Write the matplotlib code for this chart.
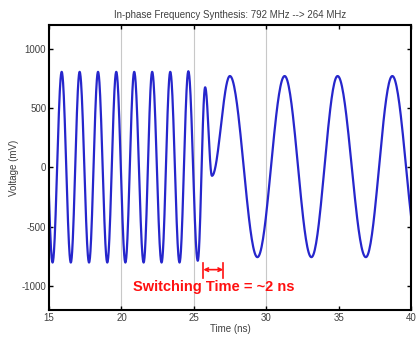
import matplotlib
matplotlib.use("Agg")
import matplotlib.pyplot as plt
import numpy as np

plt.rcParams["font.family"] = ["Liberation Sans", "DejaVu Sans"]
plt.rcParams["axes.unicode_minus"] = False

# extrema of the waveform (ns, mV)
ext_time = [14.62, 15.24, 15.87, 16.50, 17.11, 17.76, 18.38, 19.02, 19.64,
            20.27, 20.88, 21.53, 22.12, 22.77, 23.37, 24.01, 24.62, 25.27,
            25.78, 26.25, 27.49, 29.39, 31.27, 33.12, 34.93, 36.88, 38.71,
            40.60]
ext_mv = [800, -800, 805, -800, 805, -800, 805, -800, 805,
          -800, 805, -800, 805, -800, 805, -800, 810, -785,
          675, -70, 770, -755, 770, -755, 770, -755, 770,
          -755]

x_ticks = [15, 20, 25, 30, 35, 40]
y_ticks = [-1000, -500, 0, 500, 1000]
grid_at = [20, 25, 30]

switch_start, switch_end = 25.65, 27.03

# smooth half-cosine between consecutive extrema
t_parts, v_parts = [], []
for i in range(len(ext_time) - 1):
    f = np.linspace(0, 1, 40)
    t_parts.append(ext_time[i] + (ext_time[i + 1] - ext_time[i]) * f)
    v_parts.append(ext_mv[i] + (ext_mv[i + 1] - ext_mv[i]) * (1 - np.cos(np.pi * f)) / 2)
t = np.concatenate(t_parts)
v = np.concatenate(v_parts)

fig = plt.figure(figsize=(4.16, 3.37), dpi=100)
ax = fig.add_axes([0.118, 0.080, 0.870, 0.846])

for g in grid_at:
    ax.axvline(g, color="#c8c8c8", lw=0.8, zorder=0)

ax.plot(t, v, color="#2626cc", lw=1.6)

ax.set_xlim(15, 40)
ax.set_ylim(-1200, 1200)
ax.set_xticks(x_ticks)
ax.set_yticks(y_ticks)
ax.tick_params(direction="in", length=3, width=1, top=True, right=True,
               labelsize=7, labelcolor="#404040", pad=2)
for s in ax.spines.values():
    s.set_linewidth(1.5)

ax.set_title("In-phase Frequency Synthesis: 792 MHz --> 264 MHz",
             fontsize=7, color="#404040", pad=5)
ax.set_xlabel("Time (ns)", fontsize=7, color="#404040", labelpad=1)
ax.set_ylabel("Voltage (mV)", fontsize=7, color="#404040", labelpad=2)

# switching time marker
red = "#ff1010"
ax.annotate("", xy=(switch_start, -860), xytext=(switch_end, -860),
            arrowprops=dict(arrowstyle="<->", color=red, lw=1.2,
                            shrinkA=0, shrinkB=0, mutation_scale=6))
for xv in (switch_start, switch_end):
    ax.plot([xv, xv], [-800, -930], color=red, lw=1.2)
ax.text((switch_start + switch_end) / 2, -1005, "Switching Time = ~2 ns",
        color=red, fontsize=10.5, fontweight="bold", ha="center", va="center")

fig.savefig("out.png", dpi=100)
